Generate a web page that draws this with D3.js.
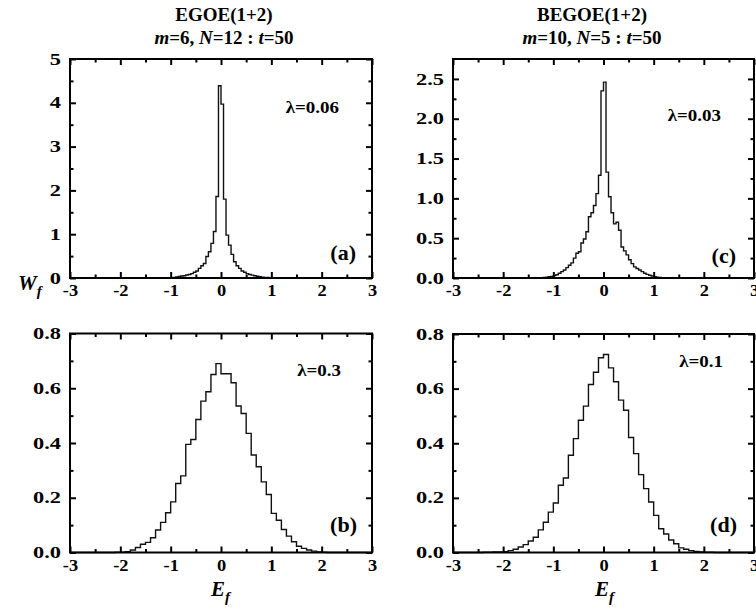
<!DOCTYPE html>
<html>
<head>
<meta charset="utf-8">
<script src="https://cdn.jsdelivr.net/npm/d3@7/dist/d3.min.js"></script>
<style>
  body { margin: 0; background: #fff; }
  svg text { font-family: "Liberation Serif", "Times New Roman", serif; font-weight: bold; fill: #000; }
</style>
</head>
<body>
<div id="chart"></div>
<script>
// histogram heights (bin left edge = start + i*width)
const binStartA = -1.0, binWidthA = 0.05;
const valuesA = [0.005, 0.015, 0.025, 0.035, 0.045, 0.05, 0.07, 0.08, 0.10, 0.13,
  0.16, 0.22, 0.28, 0.33, 0.49, 0.60, 0.79, 1.06, 1.86, 4.39,
  3.97, 1.80, 0.98, 0.75, 0.54, 0.37, 0.28, 0.22, 0.16, 0.13,
  0.10, 0.08, 0.065, 0.05, 0.04, 0.03, 0.02, 0.015, 0.01, 0.005];

const binStartB = -2.1, binWidthB = 0.1;
const valuesB = [0.001, 0.001, 0.003, 0.009, 0.018, 0.03, 0.037, 0.054, 0.082, 0.11,
  0.145, 0.185, 0.252, 0.28, 0.395, 0.413, 0.486, 0.553, 0.587, 0.65,
  0.69, 0.653, 0.653, 0.62, 0.535, 0.508, 0.435, 0.356, 0.313, 0.258,
  0.212, 0.143, 0.118, 0.084, 0.06, 0.039, 0.023, 0.015, 0.009, 0.005,
  0.002, 0.001];

const binStartC = -1.5, binWidthC = 0.05;
const valuesC = [0.001, 0.001, 0.002, 0.002, 0.003, 0.005, 0.007, 0.01, 0.015, 0.02,
  0.03, 0.04, 0.06, 0.08, 0.10, 0.13, 0.16, 0.19, 0.25, 0.31,
  0.33, 0.44, 0.49, 0.58, 0.77, 0.82, 0.91, 1.06, 1.29, 2.35,
  2.46, 1.33, 1.02, 0.82, 0.68, 0.70, 0.60, 0.39, 0.34, 0.29,
  0.23, 0.18, 0.14, 0.12, 0.10, 0.08, 0.06, 0.045, 0.035, 0.025,
  0.015, 0.01, 0.007, 0.005, 0.003, 0.002, 0.002, 0.001, 0.001, 0.001];

const binStartD = -2.4, binWidthD = 0.1;
const valuesD = [0.001, 0.001, 0.002, 0.002, 0.003, 0.007, 0.012, 0.02, 0.029, 0.042,
  0.056, 0.083, 0.111, 0.148, 0.181, 0.246, 0.273, 0.356, 0.417, 0.484,
  0.536, 0.615, 0.66, 0.713, 0.725, 0.676, 0.625, 0.558, 0.521, 0.421,
  0.362, 0.285, 0.234, 0.185, 0.136, 0.087, 0.068, 0.046, 0.032, 0.017,
  0.012, 0.007, 0.004, 0.002, 0.001, 0.001];

const xMajor = [-3, -2, -1, 0, 1, 2, 3];
const xMinor = [-2.5, -1.5, -0.5, 0.5, 1.5, 2.5];

const width = 756, height = 613;
const FONT = "'Liberation Serif', 'Times New Roman', serif";
const svg = d3.select("#chart").append("svg")
  .attr("width", width)
  .attr("height", height);

const panels = [
  { box: [70, 372, 59, 278], values: valuesA, start: binStartA, bw: binWidthA,
    yMax: 5, yMajor: [0, 1, 2, 3, 4, 5], yMinor: [0.5, 1.5, 2.5, 3.5, 4.5], fmt: d3.format("d"),
    lam: "λ=0.06", lamPos: [339, 113], tag: "(a)", tagPos: [356, 260] },
  { box: [70, 372, 333.5, 552.5], values: valuesB, start: binStartB, bw: binWidthB,
    yMax: 0.8, yMajor: [0, 0.2, 0.4, 0.6, 0.8], yMinor: [0.1, 0.3, 0.5, 0.7], fmt: d3.format(".1f"),
    lam: "λ=0.3", lamPos: [341, 376], tag: "(b)", tagPos: [357, 532] },
  { box: [453, 754, 59, 278], values: valuesC, start: binStartC, bw: binWidthC,
    yMax: 2.75, yMajor: [0, 0.5, 1, 1.5, 2, 2.5], yMinor: [0.25, 0.75, 1.25, 1.75, 2.25], fmt: d3.format(".1f"),
    lam: "λ=0.03", lamPos: [721, 121], tag: "(c)", tagPos: [736, 263] },
  { box: [453, 754, 334, 552.5], values: valuesD, start: binStartD, bw: binWidthD,
    yMax: 0.8, yMajor: [0, 0.2, 0.4, 0.6, 0.8], yMinor: [0.1, 0.3, 0.5, 0.7], fmt: d3.format(".1f"),
    lam: "λ=0.1", lamPos: [723, 367], tag: "(d)", tagPos: [737, 532] }
];

// the source figure's tick labels are drawn wide
const yLabelStretch = 1.4, xLabelStretch = 1.15;

function drawPanel(p) {
  const [x0, x1, y0, y1] = p.box;
  const x = d3.scaleLinear().domain([-3, 3]).range([x0, x1]);
  const y = d3.scaleLinear().domain([0, p.yMax]).range([y1, y0]);
  const g = svg.append("g");

  // histogram outline as a step line
  const pts = [[-3, 0], [p.start, 0]];
  p.values.forEach((v, i) => {
    const left = p.start + i * p.bw;
    pts.push([left, v], [left + p.bw, v]);
  });
  pts.push([p.start + p.values.length * p.bw, 0], [3, 0]);

  g.append("path")
    .datum(pts)
    .attr("fill", "none")
    .attr("stroke", "#111")
    .attr("stroke-width", 1.4)
    .attr("d", d3.line().x(d => x(d[0])).y(d => y(d[1])));

  // axes with inward ticks
  const styleAxis = sel => {
    sel.attr("font-family", FONT).attr("font-size", 16);
    sel.select(".domain").remove();
    sel.selectAll(".tick line").attr("stroke", "#000").attr("stroke-width", 2);
    sel.selectAll("text").attr("fill", "#000")
      .style("font-family", FONT).style("font-size", "16px")
      .style("font-weight", "bold");
  };

  g.append("g").attr("transform", `translate(0,${y1})`)
    .call(d3.axisBottom(x).tickValues(xMajor).tickSize(-6).tickPadding(7).tickFormat(d => String(d)))
    .call(styleAxis)
    .selectAll("text").attr("transform", `scale(${xLabelStretch},1)`);
  g.append("g").attr("transform", `translate(0,${y1})`)
    .call(d3.axisBottom(x).tickValues(xMinor).tickSize(-3.5).tickFormat(""))
    .call(styleAxis);
  g.append("g").attr("transform", `translate(0,${y0})`)
    .call(d3.axisTop(x).tickValues(xMajor).tickSize(-6).tickFormat(""))
    .call(styleAxis);
  g.append("g").attr("transform", `translate(0,${y0})`)
    .call(d3.axisTop(x).tickValues(xMinor).tickSize(-3.5).tickFormat(""))
    .call(styleAxis);

  g.append("g").attr("transform", `translate(${x0},0)`)
    .call(d3.axisLeft(y).tickValues(p.yMajor).tickSize(-6).tickFormat(p.fmt))
    .call(styleAxis)
    .selectAll("text")
    .attr("x", -9 / yLabelStretch)
    .attr("transform", `scale(${yLabelStretch},1)`);
  g.append("g").attr("transform", `translate(${x0},0)`)
    .call(d3.axisLeft(y).tickValues(p.yMinor).tickSize(-3.5).tickFormat(""))
    .call(styleAxis);
  g.append("g").attr("transform", `translate(${x1},0)`)
    .call(d3.axisRight(y).tickValues(p.yMajor).tickSize(-6).tickFormat(""))
    .call(styleAxis);
  g.append("g").attr("transform", `translate(${x1},0)`)
    .call(d3.axisRight(y).tickValues(p.yMinor).tickSize(-3.5).tickFormat(""))
    .call(styleAxis);

  // frame
  g.append("rect")
    .attr("x", x0).attr("y", y0)
    .attr("width", x1 - x0).attr("height", y1 - y0)
    .attr("fill", "none").attr("stroke", "#000").attr("stroke-width", 2);

  g.append("text")
    .attr("transform", `translate(${p.lamPos[0]},${p.lamPos[1]}) scale(1.15,1)`)
    .attr("text-anchor", "end")
    .attr("font-size", 16.5)
    .text(p.lam);

  g.append("text")
    .attr("x", p.tagPos[0]).attr("y", p.tagPos[1])
    .attr("text-anchor", "end")
    .attr("font-size", 22)
    .text(p.tag);
}

panels.forEach(drawPanel);

// titles
function title(cx, line1, parts) {
  svg.append("text")
    .attr("x", cx).attr("y", 21)
    .attr("text-anchor", "middle")
    .attr("font-size", 19)
    .text(line1);
  const t = svg.append("text")
    .attr("x", cx).attr("y", 44)
    .attr("text-anchor", "middle")
    .attr("font-size", 19);
  parts.forEach(([s, it]) => {
    t.append("tspan").attr("font-style", it ? "italic" : "normal").text(s);
  });
}
title(224, "EGOE(1+2)", [["m", true], ["=6, ", false], ["N", true], ["=12 : ", false], ["t", true], ["=50", false]]);
title(592, "BEGOE(1+2)", [["m", true], ["=10, ", false], ["N", true], ["=5 : ", false], ["t", true], ["=50", false]]);

// axis labels
function subLabel(xPos, yPos, main) {
  const t = svg.append("text")
    .attr("x", xPos).attr("y", yPos)
    .attr("font-size", 21)
    .attr("font-style", "italic");
  t.append("tspan").text(main);
  t.append("tspan").attr("font-size", 15).attr("dy", 6).text("f");
}
subLabel(18, 290, "W");
subLabel(211, 596, "E");
subLabel(595, 596, "E");
</script>
</body>
</html>
